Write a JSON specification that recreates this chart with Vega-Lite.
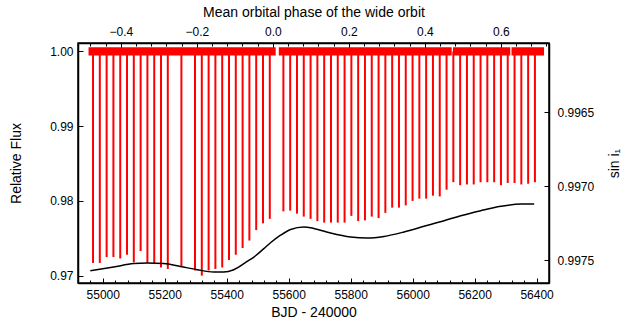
{
  "$schema": "https://vega.github.io/schema/vega-lite/v6.json",
  "width": 471,
  "height": 240,
  "autosize": {"type": "none"},
  "padding": {"left": 78, "top": 43, "right": 87, "bottom": 41},
  "background": "white",
  "config": {
    "view": {"stroke": "black", "strokeWidth": 1.5},
    "axis": {
      "labelFont": "Liberation Sans",
      "titleFont": "Liberation Sans",
      "labelFontSize": 12,
      "titleFontSize": 14,
      "titleFontWeight": "normal",
      "labelColor": "black",
      "titleColor": "black",
      "domainColor": "black",
      "domainWidth": 1.5,
      "tickColor": "black",
      "tickSize": -5,
      "tickWidth": 1,
      "labelPadding": 11,
      "grid": false
    }
  },
  "datasets": {
    "segments": [
      {"start": 54954, "end": 55558},
      {"start": 55568, "end": 56126},
      {"start": 56130, "end": 56315},
      {"start": 56319, "end": 56424}
    ],
    "eclipses": [
      {"bjd": 54968.5, "depth": 0.9717},
      {"bjd": 54990.4, "depth": 0.9717},
      {"bjd": 55012.4, "depth": 0.9725},
      {"bjd": 55034.3, "depth": 0.9725},
      {"bjd": 55056.3, "depth": 0.9723},
      {"bjd": 55078.2, "depth": 0.9728},
      {"bjd": 55100.1, "depth": 0.9718},
      {"bjd": 55122.1, "depth": 0.9733},
      {"bjd": 55144.0, "depth": 0.9717},
      {"bjd": 55166.0, "depth": 0.9717},
      {"bjd": 55187.9, "depth": 0.9711},
      {"bjd": 55209.8, "depth": 0.9709},
      {"bjd": 55253.7, "depth": 0.9712},
      {"bjd": 55297.6, "depth": 0.9707},
      {"bjd": 55319.5, "depth": 0.9700},
      {"bjd": 55341.5, "depth": 0.9707},
      {"bjd": 55363.4, "depth": 0.9709},
      {"bjd": 55385.4, "depth": 0.9711},
      {"bjd": 55407.3, "depth": 0.9721},
      {"bjd": 55429.2, "depth": 0.9728},
      {"bjd": 55451.2, "depth": 0.9737},
      {"bjd": 55473.1, "depth": 0.9747},
      {"bjd": 55495.1, "depth": 0.9761},
      {"bjd": 55517.0, "depth": 0.9770},
      {"bjd": 55538.9, "depth": 0.9776},
      {"bjd": 55582.8, "depth": 0.9786},
      {"bjd": 55604.8, "depth": 0.9787},
      {"bjd": 55626.7, "depth": 0.9783},
      {"bjd": 55648.6, "depth": 0.9779},
      {"bjd": 55670.6, "depth": 0.9776},
      {"bjd": 55692.5, "depth": 0.9773},
      {"bjd": 55714.5, "depth": 0.9771},
      {"bjd": 55736.4, "depth": 0.9771},
      {"bjd": 55758.3, "depth": 0.9771},
      {"bjd": 55780.3, "depth": 0.9771},
      {"bjd": 55802.2, "depth": 0.9780},
      {"bjd": 55824.2, "depth": 0.9773},
      {"bjd": 55846.1, "depth": 0.9774},
      {"bjd": 55868.0, "depth": 0.9779},
      {"bjd": 55890.0, "depth": 0.9777},
      {"bjd": 55911.9, "depth": 0.9784},
      {"bjd": 55933.9, "depth": 0.9791},
      {"bjd": 55955.8, "depth": 0.9791},
      {"bjd": 55977.7, "depth": 0.9794},
      {"bjd": 55999.7, "depth": 0.9800},
      {"bjd": 56021.6, "depth": 0.9803},
      {"bjd": 56043.6, "depth": 0.9803},
      {"bjd": 56065.5, "depth": 0.9807},
      {"bjd": 56087.4, "depth": 0.9806},
      {"bjd": 56109.4, "depth": 0.9815},
      {"bjd": 56131.3, "depth": 0.9825},
      {"bjd": 56153.3, "depth": 0.9821},
      {"bjd": 56175.2, "depth": 0.9822},
      {"bjd": 56197.1, "depth": 0.9822},
      {"bjd": 56219.1, "depth": 0.9825},
      {"bjd": 56241.0, "depth": 0.9825},
      {"bjd": 56263.0, "depth": 0.9825},
      {"bjd": 56284.9, "depth": 0.9821},
      {"bjd": 56306.8, "depth": 0.9824},
      {"bjd": 56328.8, "depth": 0.9824},
      {"bjd": 56350.7, "depth": 0.9822},
      {"bjd": 56372.7, "depth": 0.9823},
      {"bjd": 56394.6, "depth": 0.9825}
    ],
    "sini": [
      {"bjd": 54959.7, "sini": 0.997570},
      {"bjd": 55035.0, "sini": 0.997545},
      {"bjd": 55099.6, "sini": 0.997522},
      {"bjd": 55142.9, "sini": 0.997518},
      {"bjd": 55196.6, "sini": 0.997522},
      {"bjd": 55250.5, "sini": 0.997541},
      {"bjd": 55304.5, "sini": 0.997563},
      {"bjd": 55358.1, "sini": 0.997578},
      {"bjd": 55390.4, "sini": 0.997578},
      {"bjd": 55422.7, "sini": 0.997563},
      {"bjd": 55466.0, "sini": 0.997507},
      {"bjd": 55493.0, "sini": 0.997469},
      {"bjd": 55519.7, "sini": 0.997421},
      {"bjd": 55541.3, "sini": 0.997381},
      {"bjd": 55573.6, "sini": 0.997330},
      {"bjd": 55605.9, "sini": 0.997291},
      {"bjd": 55648.9, "sini": 0.997274},
      {"bjd": 55681.2, "sini": 0.997284},
      {"bjd": 55735.2, "sini": 0.997315},
      {"bjd": 55799.8, "sini": 0.997342},
      {"bjd": 55853.8, "sini": 0.997349},
      {"bjd": 55907.4, "sini": 0.997338},
      {"bjd": 55972.0, "sini": 0.997308},
      {"bjd": 56036.7, "sini": 0.997270},
      {"bjd": 56101.3, "sini": 0.997232},
      {"bjd": 56155.2, "sini": 0.997198},
      {"bjd": 56220.0, "sini": 0.997164},
      {"bjd": 56284.6, "sini": 0.997135},
      {"bjd": 56349.2, "sini": 0.997119},
      {"bjd": 56392.1, "sini": 0.997119}
    ],
    "phase": [
      {"phase": -0.5128},
      {"phase": 0.7268}
    ]
  },
  "layer": [
    {
      "layer": [
        {
          "data": {"name": "segments"},
          "mark": {"type": "rect", "color": "#ff0000"},
          "encoding": {
            "x": {
              "field": "start",
              "type": "quantitative",
              "scale": {"domain": [54920, 56440], "nice": false, "zero": false},
              "axis": {
                "orient": "bottom",
                "title": "BJD - 240000",
                "values": [55000, 55200, 55400, 55600, 55800, 56000, 56200, 56400],
                "format": "d",
                "titlePadding": 5
              }
            },
            "x2": {"field": "end"},
            "y": {
              "datum": 0.99945,
              "type": "quantitative",
              "scale": {"domain": [0.96902, 1.00112], "nice": false, "zero": false},
              "axis": {"orient": "left", "title": "Relative Flux", "values": [0.97, 0.98, 0.99, 1.0], "format": ".2f", "labelPadding": 10, "titlePadding": 26}
            },
            "y2": {"datum": 1.00055}
          }
        },
        {
          "data": {"name": "eclipses"},
          "mark": {"type": "rule", "color": "#ff0000", "strokeWidth": 2},
          "encoding": {
            "x": {"field": "bjd", "type": "quantitative"},
            "y": {"field": "depth", "type": "quantitative"},
            "y2": {"datum": 1.0}
          }
        }
      ]
    },
    {
      "data": {"name": "sini"},
      "mark": {"type": "line", "color": "black", "strokeWidth": 1.5, "interpolate": "monotone"},
      "encoding": {
        "x": {
          "field": "bjd",
          "type": "quantitative",
          "scale": {"domain": [54920, 56440], "nice": false, "zero": false},
          "axis": {
            "orient": "bottom",
            "title": null,
            "labels": false,
            "domain": false,
            "tickSize": -3,
            "values": [54960, 55040, 55080, 55120, 55160, 55240, 55280, 55320, 55360, 55440, 55480, 55520, 55560, 55640, 55680, 55720, 55760, 55840, 55880, 55920, 55960, 56040, 56080, 56120, 56160, 56240, 56280, 56320, 56360]
          }
        },
        "y": {
          "field": "sini",
          "type": "quantitative",
          "scale": {"domain": [0.996031, 0.997653], "nice": false, "zero": false, "reverse": true},
          "axis": {"orient": "right", "title": "sin i₁", "values": [0.9965, 0.997, 0.9975], "format": ".4f", "labelPadding": 13, "titlePadding": 28, "titleAngle": 270}
        }
      }
    },
    {
      "data": {"name": "phase"},
      "mark": {"type": "point", "opacity": 0},
      "encoding": {
        "x": {
          "field": "phase",
          "type": "quantitative",
          "scale": {"domain": [-0.5128, 0.7268], "nice": false, "zero": false},
          "axis": {
            "orient": "top",
            "title": "Mean orbital phase of the wide orbit",
            "values": [-0.4, -0.2, 0.0, 0.2, 0.4, 0.6],
            "format": ".1f",
            "labelPadding": 10,
            "titlePadding": 6
          }
        }
      }
    },
    {
      "data": {"name": "phase"},
      "mark": {"type": "point", "opacity": 0},
      "encoding": {
        "x": {
          "field": "phase",
          "type": "quantitative",
          "scale": {"domain": [-0.5128, 0.7268], "nice": false, "zero": false},
          "axis": {
            "orient": "top",
            "title": null,
            "labels": false,
            "domain": false,
            "tickSize": -3,
            "values": [-0.48, -0.44, -0.36, -0.32, -0.28, -0.24, -0.16, -0.12, -0.08, -0.04, 0.04, 0.08, 0.12, 0.16, 0.24, 0.28, 0.32, 0.36, 0.44, 0.48, 0.52, 0.56, 0.64, 0.68, 0.72]
          }
        }
      }
    }
  ],
  "resolve": {"scale": {"x": "independent", "y": "independent"}}
}
